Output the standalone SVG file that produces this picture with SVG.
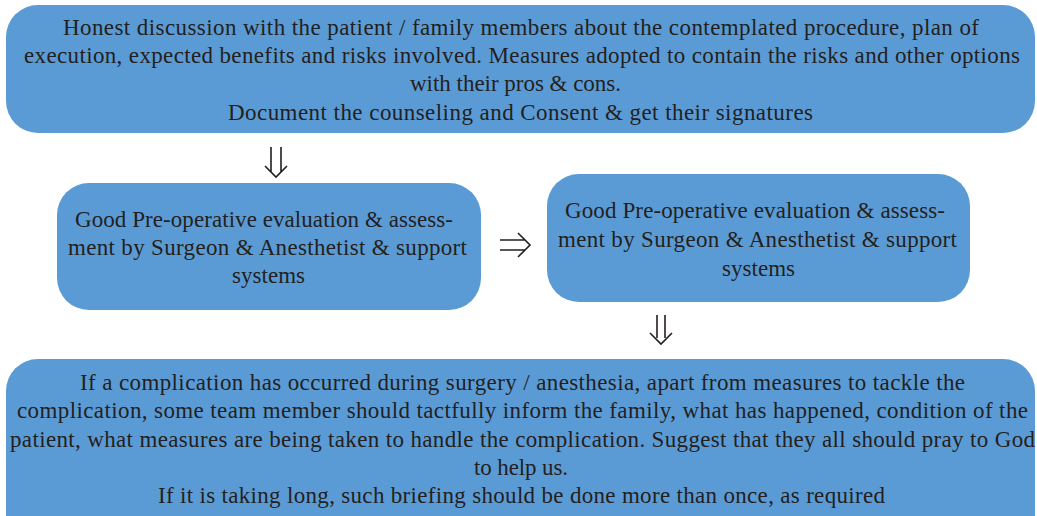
<svg xmlns="http://www.w3.org/2000/svg" width="1037" height="516" viewBox="0 0 1037 516">
<style>
.box{fill:#5b9bd5;}
.t{font-family:"Liberation Serif","Times New Roman",serif;font-size:23px;fill:#231f20;lengthAdjust:spacing;}
.arr{fill:none;stroke:#231f20;stroke-width:1.6;stroke-linejoin:miter;}
</style>
<rect width="1037" height="516" fill="#ffffff"/>
<g id="node-counseling">
<rect class="box" x="6" y="5" width="1029" height="128" rx="32" ry="32"/>
<text class="t" x="63" y="35" textLength="916" lengthAdjust="spacing">Honest discussion with the patient / family members about the contemplated procedure, plan of</text>
<text class="t" x="24" y="63" textLength="996" lengthAdjust="spacing">execution, expected benefits and risks involved. Measures adopted to contain the risks and other options</text>
<text class="t" x="410" y="91" textLength="211" lengthAdjust="spacing">with their pros &amp; cons.</text>
<text class="t" x="228" y="120" textLength="585" lengthAdjust="spacing">Document the counseling and Consent &amp; get their signatures</text>
</g>
<g id="node-evaluation-1">
<rect class="box" x="57" y="183" width="424" height="127" rx="32" ry="32"/>
<text class="t" x="75" y="227" textLength="378" lengthAdjust="spacing">Good Pre-operative evaluation &amp; assess-</text>
<text class="t" x="68" y="255" textLength="399" lengthAdjust="spacing">ment by Surgeon &amp; Anesthetist &amp; support</text>
<text class="t" x="232" y="283" textLength="73" lengthAdjust="spacing">systems</text>
</g>
<g id="node-evaluation-2">
<rect class="box" x="547" y="174" width="423" height="128" rx="32" ry="32"/>
<text class="t" x="565" y="218" textLength="380" lengthAdjust="spacing">Good Pre-operative evaluation &amp; assess-</text>
<text class="t" x="558" y="247" textLength="399" lengthAdjust="spacing">ment by Surgeon &amp; Anesthetist &amp; support</text>
<text class="t" x="722" y="276" textLength="73" lengthAdjust="spacing">systems</text>
</g>
<g id="node-complication">
<rect class="box" x="6" y="359" width="1029" height="190" rx="32" ry="32"/>
<text class="t" x="80" y="390" textLength="885" lengthAdjust="spacing">If a complication has occurred during surgery / anesthesia, apart from measures to tackle the</text>
<text class="t" x="17" y="418" textLength="1011" lengthAdjust="spacing">complication, some team member should tactfully inform the family, what has happened, condition of the</text>
<text class="t" x="10" y="447" textLength="1025" lengthAdjust="spacing">patient, what measures are being taken to handle the complication. Suggest that they all should pray to God</text>
<text class="t" x="474" y="475" textLength="94" lengthAdjust="spacing">to help us.</text>
<text class="t" x="158" y="503" textLength="727" lengthAdjust="spacing">If it is taking long, such briefing should be done more than once, as required</text>
</g>
<g id="connectors">
<path class="arr" d="M271 147 V172 M281 147 V172 M265 166 L276 177 L287 166"/>
<path class="arr" d="M500 240 H525 M500 250 H525 M518 233 L530 245 L518 257"/>
<path class="arr" d="M657 315 V338 M665 315 V338 M650 333 L661 344 L672 333"/>
</g>
</svg>
